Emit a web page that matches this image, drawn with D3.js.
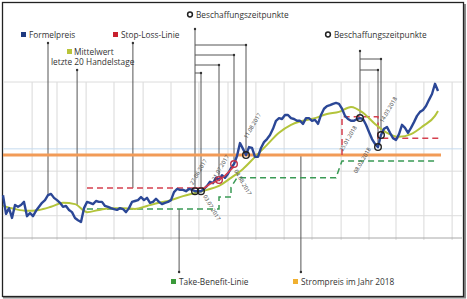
<!DOCTYPE html>
<html>
<head>
<meta charset="utf-8">
<script src="https://cdn.jsdelivr.net/npm/d3@7"></script>
<style>
body { margin: 0; background: #fff; }
text { font-family: "Open Sans", Roboto, sans-serif; fill: #333; }
</style>
</head>
<body>
<svg id="chart" width="467" height="299"></svg>
<script>
// Formelpreis, one value per trading day (index 0..145)
var formelpreis = [
    29.6, 25.4, 26.7, 24.5, 27.4, 27.0, 27.4, 28.1, 24.9, 25.6,
    24.9, 26.1, 27.0, 27.9, 28.5, 29.6, 29.9, 29.0, 28.5, 27.9,
    27.0, 27.2, 26.3, 25.8, 24.5, 24.0, 23.6, 26.7, 28.1, 27.9,
    27.6, 28.3, 28.1, 28.1, 27.2, 27.0, 26.7, 26.5, 26.3, 26.7,
    26.5, 25.8, 26.7, 28.1, 28.3, 28.5, 29.2, 28.5, 29.0, 27.9,
    28.1, 28.8, 28.1, 27.6, 27.9, 28.1, 28.5, 30.3, 31.0, 30.8,
    30.8, 30.5, 31.0, 30.8, 30.5, 30.5, 30.5, 31.0, 31.7, 32.6,
    32.3, 33.5, 33.0, 34.1, 33.5, 34.4, 35.7, 36.6, 38.4, 41.3,
    40.0, 38.6, 40.4, 40.2, 38.2, 38.2, 40.2, 41.5, 42.2, 43.1,
    44.5, 46.3, 46.9, 46.7, 47.6, 47.6, 46.9, 46.7, 46.3, 46.3,
    45.6, 46.9, 46.9, 46.3, 46.5, 45.6, 47.6, 49.0, 49.6, 49.8,
    50.1, 50.3, 50.1, 49.0, 47.4, 46.7, 46.3, 46.3, 46.7, 46.9,
    46.7, 45.4, 43.8, 42.2, 41.1, 40.4, 43.1, 44.5, 44.9, 43.6,
    42.4, 42.0, 43.3, 45.4, 44.7, 43.6, 44.7, 46.0, 47.4, 48.3,
    48.7, 49.6, 51.0, 52.3, 54.6, 53.0
];

// Mittelwert letzte 20 Handelstage, read every 4th day
var mittelwertIdx = d3.range(0, 145, 4).concat([145]);
var mittelwert = [
    27.2, 26.5, 26.1, 26.3, 27.0, 27.9, 27.6, 25.8, 26.3, 26.7,
    26.7, 26.5, 27.2, 27.9, 28.5, 29.4, 30.1, 30.8, 31.7, 33.5,
    35.5, 38.2, 40.9, 43.6, 45.4, 46.3, 46.9, 47.8, 48.3, 49.4,
    48.1, 45.6, 43.6, 42.7, 43.3, 45.1, 47.4, 48.5
];

// [day index, price]
var stopLossDash = [[28, 31.2], [63, 31.2]];
var stopLossSolid = [[63, 31.2], [67, 31.2], [69, 32.1], [72, 33.0], [74, 34.0], [77, 36.0]];
var stopLoss2 = [[113, 38.6], [113, 47.2], [125, 47.2], [125, 42.4], [146, 42.4]];
var takeBenefit = [[28, 26.5], [72, 26.5], [72, 29.2], [76, 29.2], [76, 31.4], [78, 33.5],
                   [111, 33.5], [113, 37.3], [145, 37.3]];
var strompreis2018 = 38.6;

var kaufIdx1 = [64, 66, 72, 77, 81];
var kaufDaten1 = ["27.06.2017", "03.07.2017", "21.07.2017", "04.08.2017", "11.08.2017"];
var kaufIdx2 = [119, 125, 126];
var kaufDaten2 = ["25.01.2018", "08.02.2018", "14.03.2018"];

var yTicks = [25, 35, 40, 55];
var xGrid = [9.7, 18, 27.7, 37, 46.7, 56, 65.3, 75, 84.3, 93.7, 103, 112.7, 122, 131, 140.3, 149.7];

var svg = d3.select("#chart");

var x = d3.scaleLinear().domain([0, 145]).range([3, 438]);
var y = d3.scaleLinear().domain([20, 55]).range([238, 82]);
var maAt = d3.scaleLinear().domain(mittelwertIdx).range(mittelwert);

var line = d3.line()
    .x(function(d) { return x(d[0]) })
    .y(function(d) { return y(d[1]) });

// frame
svg.append("line").attr("x1", 465).attr("y1", 4).attr("x2", 465).attr("y2", 298)
    .style("stroke", "#8a8a8a").style("stroke-width", 2);
svg.append("line").attr("x1", 3).attr("y1", 297.5).attr("x2", 466).attr("y2", 297.5)
    .style("stroke", "#8a8a8a").style("stroke-width", 2);
svg.append("rect").attr("x", 2.5).attr("y", 2.5).attr("width", 461).attr("height", 294)
    .style("fill", "#fff").style("stroke", "#222").style("stroke-width", 1.3);

// grid
var grid = svg.append("g").attr("class", "grid");
grid.selectAll("line.v")
    .data(xGrid)
    .enter().append("line")
    .attr("x1", function(d) { return x(d) }).attr("x2", function(d) { return x(d) })
    .attr("y1", y(55)).attr("y2", y(20) + 2)
    .style("stroke", "#d9d9d9").style("stroke-width", 1);
grid.selectAll("line.h")
    .data(yTicks)
    .enter().append("line")
    .attr("x1", x(0)).attr("x2", x(153))
    .attr("y1", function(d) { return y(d) }).attr("y2", function(d) { return y(d) })
    .style("stroke", function(d) { return d == 40 ? "#c6dbef" : "#dcdcdc" })
    .style("stroke-width", 1);
grid.append("line")
    .attr("x1", x(0)).attr("x2", x(153)).attr("y1", y(20)).attr("y2", y(20))
    .style("stroke", "#a8a8a8").style("stroke-width", 1);

// leader lines
var lead = svg.append("g").style("stroke", "#555").style("stroke-width", 1).style("fill", "none");
function dot(px, py) {
    svg.append("circle").attr("cx", px).attr("cy", py).attr("r", 1.2).style("fill", "#333");
}
function vline(px, y1, y2) {
    lead.append("line").attr("x1", px).attr("x2", px).attr("y1", y1).attr("y2", y2);
}
vline(x(15), 43, y(formelpreis[15])); dot(x(15), 43);
vline(x(24.7), 70, y(maAt(24.7))); dot(x(24.7), 70);
vline(x(43.3), 43, y(stopLossDash[0][1])); dot(x(43.3), 43);
vline(x(58.7), y(takeBenefit[0][1]), 272); dot(x(58.7), 272);
vline(x(99.3), y(strompreis2018), 272); dot(x(99.3), 272);

function kaufLeader(idxs, top, branchY) {
    var x0 = x(idxs[0]);
    vline(x0, top, y(formelpreis[idxs[0]]) - 4);
    dot(x0, top);
    branchY.forEach(function(by, k) {
        var i = idxs[k + 1];
        lead.append("path").attr("d", "M" + x0 + "," + by + "H" + x(i) + "V" + (y(formelpreis[i]) - 4));
        dot(x(i), by);
    });
}
kaufLeader(kaufIdx1, 29, [73, 65, 55, 45]);
kaufLeader(kaufIdx2, 51, [70, 59]);

// Strompreis 2018
svg.append("line")
    .attr("x1", x(0)).attr("x2", x(146))
    .attr("y1", y(strompreis2018)).attr("y2", y(strompreis2018))
    .style("stroke", "#f29b57").style("stroke-width", 3);

// Stop-loss / Take-benefit
svg.append("path").datum(takeBenefit).attr("d", line)
    .style("fill", "none").style("stroke", "#3a9a55").style("stroke-width", 1.5)
    .style("stroke-dasharray", "6,4");
svg.append("path").datum(stopLossDash).attr("d", line)
    .style("fill", "none").style("stroke", "#d5404f").style("stroke-width", 1.5)
    .style("stroke-dasharray", "6,4");
svg.append("path").datum(stopLoss2).attr("d", line)
    .style("fill", "none").style("stroke", "#d5404f").style("stroke-width", 1.5)
    .style("stroke-dasharray", "6,4");

// Mittelwert
svg.append("path")
    .datum(mittelwertIdx.map(function(i, k) { return [i, mittelwert[k]] }))
    .attr("d", line.curve(d3.curveMonotoneX))
    .style("fill", "none").style("stroke", "#b3c43b").style("stroke-width", 2);
line.curve(d3.curveLinear);

// Formelpreis
svg.append("path")
    .datum(formelpreis.map(function(v, i) { return [i, v] }))
    .attr("d", line)
    .style("fill", "none").style("stroke", "#2b4796").style("stroke-width", 2.4)
    .style("stroke-linejoin", "round");

svg.append("path").datum(stopLossSolid).attr("d", line)
    .style("fill", "none").style("stroke", "#d5404f").style("stroke-width", 1.6);

// Beschaffungszeitpunkte
var kauf = kaufIdx1.concat(kaufIdx2);
svg.selectAll("circle.kauf")
    .data(kauf)
    .enter().append("circle")
    .attr("class", "kauf")
    .attr("cx", function(d) { return x(d) })
    .attr("cy", function(d) { return y(formelpreis[d]) })
    .attr("r", 3.3)
    .style("fill", "none")
    .style("stroke", function(d) { return d == 72 || d == 77 ? "#c0304a" : "#222" })
    .style("stroke-width", 1.4);

// date labels: [dx, dy, angle, anchor]
var dateLayout = [
    [-2, -6, -60, "start"], [2, 5, 60, "start"], [-4, 1, -60, "start"], [0, 7, 60, "start"], [1, -16, -60, "start"],
    [-3, 9, -60, "end"], [-7, 2, -60, "end"], [2, -12, -60, "start"]
];
var daten = kaufDaten1.concat(kaufDaten2);
svg.selectAll("text.datum")
    .data(kauf)
    .enter().append("text")
    .attr("class", "datum")
    .attr("transform", function(d, k) {
        var L = dateLayout[k];
        return "translate(" + (x(d) + L[0]) + "," + (y(formelpreis[d]) + L[1]) + ") rotate(" + L[2] + ")";
    })
    .attr("text-anchor", function(d, k) { return dateLayout[k][3] })
    .style("font-size", "5.6px")
    .style("fill", "#444")
    .text(function(d, k) { return daten[k] });

// legend
function legendSwatch(px, py, col) {
    svg.append("rect").attr("x", px).attr("y", py).attr("width", 5).attr("height", 5).style("fill", col);
}
function legendText(px, py, t) {
    svg.append("text").attr("x", px).attr("y", py).style("font-size", "8.3px").text(t);
}
legendSwatch(21, 32, "#1f3a80"); legendText(29, 37.5, "Formelpreis");
legendSwatch(67, 49, "#b9c43a"); legendText(74, 54.5, "Mittelwert");
legendText(51, 65, "letzte 20 Handelstage");
legendSwatch(113, 32, "#c8202e"); legendText(121, 37.5, "Stop-Loss-Linie");
legendSwatch(171, 279, "#3a9a3a"); legendText(179, 284.5, "Take-Benefit-Linie");
legendSwatch(293, 279, "#f0b030"); legendText(301, 284.5, "Strompreis im Jahr 2018");

[[190, 14.5, 196], [328, 34.5, 334]].forEach(function(p) {
    svg.append("circle").attr("cx", p[0]).attr("cy", p[1]).attr("r", 2.4)
        .style("fill", "#fff").style("stroke", "#222").style("stroke-width", 1.5);
    legendText(p[2], p[1] + 3, "Beschaffungszeitpunkte");
});
</script>
</body>
</html>
